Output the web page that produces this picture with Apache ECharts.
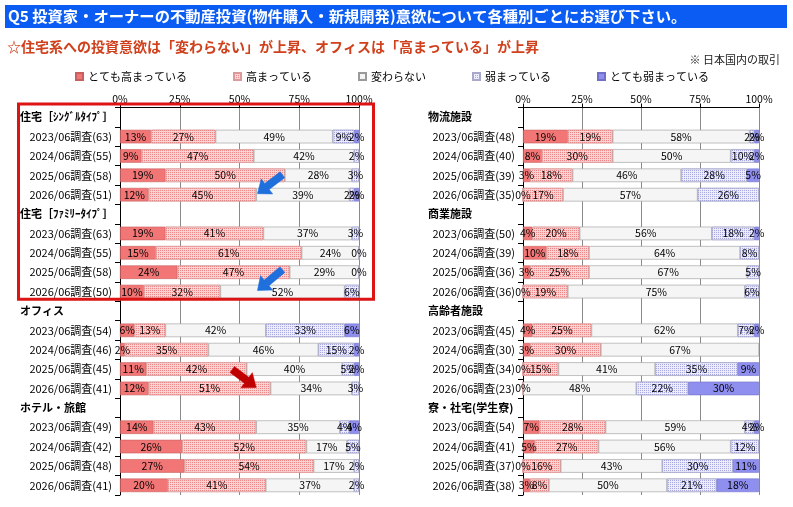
<!DOCTYPE html>
<html><head><meta charset="utf-8">
<script src="https://cdn.jsdelivr.net/npm/echarts@6/dist/echarts.min.js"></script>
<style>html,body{margin:0;padding:0;background:#fff}#c{width:793px;height:507px}</style>
</head><body><div id="c"></div>
<script>
const FONT = '"Noto Sans CJK JP", "Noto Sans", sans-serif';
const seriesNames = ['とても高まっている','高まっている','変わらない','弱まっている','とても弱まっている'];
const tickValues = [0, 25, 50, 75, 100];
const tickLabels = ['0%', '25%', '50%', '75%', '100%'];
const leftHeaders = ['住宅［ｼﾝｸﾞﾙﾀｲﾌﾟ］','住宅［ﾌｧﾐﾘｰﾀｲﾌﾟ］','オフィス','ホテル・旅館'];
const rightHeaders = ['物流施設','商業施設','高齢者施設','寮・社宅(学生寮)'];
const leftCategories = [
  '住宅［ｼﾝｸﾞﾙﾀｲﾌﾟ］','2023/06調査(63)','2024/06調査(55)','2025/06調査(58)','2026/06調査(51)',
  '住宅［ﾌｧﾐﾘｰﾀｲﾌﾟ］','2023/06調査(63)','2024/06調査(55)','2025/06調査(58)','2026/06調査(50)',
  'オフィス','2023/06調査(54)','2024/06調査(46)','2025/06調査(45)','2026/06調査(41)',
  'ホテル・旅館','2023/06調査(49)','2024/06調査(42)','2025/06調査(48)','2026/06調査(41)'
];
const rightCategories = [
  '物流施設','2023/06調査(48)','2024/06調査(40)','2025/06調査(39)','2026/06調査(35)',
  '商業施設','2023/06調査(50)','2024/06調査(39)','2025/06調査(36)','2026/06調査(36)',
  '高齢者施設','2023/06調査(45)','2024/06調査(30)','2025/06調査(34)','2026/06調査(23)',
  '寮・社宅(学生寮)','2023/06調査(54)','2024/06調査(41)','2025/06調査(37)','2026/06調査(38)'
];
// left panel values (null = header row / no label)
const leftVeryHigh = [null,13,9,19,12, null,19,15,24,10, null,6,2,11,12, null,14,26,27,20];
const leftHigh     = [null,27,47,50,45, null,41,61,47,32, null,13,35,42,51, null,43,52,54,41];
const leftSame     = [null,49,42,28,39, null,37,24,29,52, null,42,46,40,34, null,35,17,17,37];
const leftWeak     = [null,9,2,3,2,     null,3,0,0,6,     null,33,15,5,3,  null,4,5,2,2];
const leftVeryWeak = [null,2,null,null,2, null,null,null,null,null, null,6,2,2,null, null,4,null,null,null];
// right panel values
const rightVeryHigh = [null,19,8,3,0,  null,4,10,3,0,  null,4,3,0,0,   null,7,5,0,3];
const rightHigh     = [null,19,30,18,17, null,20,18,25,19, null,25,30,15,null, null,28,27,16,8];
const rightSame     = [null,58,50,46,57, null,56,64,67,75, null,62,67,41,48, null,59,56,43,50];
const rightWeak     = [null,2,10,28,26, null,18,8,5,6,  null,7,null,35,22, null,4,12,30,21];
const rightVeryWeak = [null,2,2,5,null, null,2,null,null,null, null,2,null,9,30, null,2,null,11,18];

const colors = ['#f27676','#fad2d2','#f5f5f5','#ececfa','#8f8ff0'];
const borders = ['#c86060','#d89a9a','#9a9a9a','#a8a8c8','#7070c8'];
const decals = [
  null,
  {symbol:'rect', symbolSize:1, dashArrayX:[1,1], dashArrayY:[1,1], color:'rgba(232,110,110,0.75)'},
  null,
  {symbol:'rect', symbolSize:1, dashArrayX:[1,1], dashArrayY:[1,1], color:'rgba(140,140,215,0.7)'},
  null
];

const chart = echarts.init(document.getElementById('c'));

function yAxisFor(gi, cats, headers, hdrWidth){
  return {
    type:'category', gridIndex: gi, inverse: true, data: cats,
    axisLine:{show:true, lineStyle:{color:'#000', width:1}},
    axisTick:{show:true, length:5, interval:0, lineStyle:{color:'#000'}},
    axisLabel:{
      interval:0, margin:8, fontSize:11, color:'#000', fontFamily: FONT,
      formatter: v => headers.indexOf(v) >= 0 ? '{h|' + v + '}' : v,
      rich:{ h:{ width: hdrWidth, align:'left', fontWeight:'bold', fontSize:11, color:'#000', fontFamily: FONT } }
    }
  };
}
function xAxisFor(gi){
  return {
    type:'value', gridIndex: gi, position:'top', min:0, max:100, interval:25,
    axisLine:{show:true, lineStyle:{color:'#000', width:1}},
    axisTick:{show:true, length:4, lineStyle:{color:'#000'}},
    axisLabel:{margin:3, fontSize:10.5, color:'#000', fontFamily: FONT,
      formatter: v => tickLabels[tickValues.indexOf(v)]},
    splitLine:{show:true, lineStyle:{color:'#8a8a8a', width:1}}
  };
}
function makeSeries(gi, arrays){
  return arrays.map((arr, k) => {
    const st = {color: colors[k], borderColor: borders[k], borderWidth: 0.6};
    if (decals[k]) st.decal = decals[k];
    return {
      name: seriesNames[k], type:'bar', stack:'s'+gi, xAxisIndex: gi, yAxisIndex: gi,
      barWidth:'70%', data: arr,
      itemStyle: st,
      label:{show:true, position:'inside', color:'#000', fontSize:10.5, fontFamily: FONT,
        formatter: p => (p.value === null || p.value === undefined) ? '' : p.value + '%'},
      emphasis:{disabled:true}, animation:false
    };
  });
}

const option = {
  animation:false,
  textStyle:{fontFamily: FONT},
  legend:{
    data: seriesNames, top: 66, left: 70, itemGap: 46, itemWidth: 7, itemHeight: 7,
    icon:'rect', textStyle:{fontSize:11, color:'#000', fontFamily: FONT}, selectedMode:false
  },
  grid:[
    {left:120, top:107.5, width:239, height:387.5, containLabel:false},
    {left:523, top:107.5, width:236, height:387.5, containLabel:false}
  ],
  xAxis:[xAxisFor(0), xAxisFor(1)],
  yAxis:[yAxisFor(0, leftCategories, leftHeaders, 92), yAxisFor(1, rightCategories, rightHeaders, 87)],
  series: makeSeries(0,[leftVeryHigh,leftHigh,leftSame,leftWeak,leftVeryWeak])
    .concat(makeSeries(1,[rightVeryHigh,rightHigh,rightSame,rightWeak,rightVeryWeak])),
  graphic:[
    {type:'rect', id:'titleBg', shape:{x:5, y:5, width:782, height:23}, style:{fill:'#0b5cf2'}, z:10},
    {type:'text', id:'title', x:8, y:16.5, z:11, style:{text:'Q5 投資家・オーナーの不動産投資(物件購入・新規開発)意欲について各種別ごとにお選び下さい。',
      fill:'#fff', font:'bold 15.3px ' + FONT, textVerticalAlign:'middle'}},
    {type:'text', id:'sub', x:7, y:47, z:11, style:{text:'☆住宅系への投資意欲は「変わらない」が上昇、オフィスは「高まっている」が上昇',
      fill:'#d0401c', font:'bold 14px ' + FONT, textVerticalAlign:'middle'}},
    {type:'text', id:'note', x:780, y:60, z:11, style:{text:'※ 日本国内の取引', fill:'#222', font:'11px ' + FONT,
      textAlign:'right', textVerticalAlign:'middle'}}
  ]
};
chart.setOption(option);

function arrowPoints(tail, tip, shaftW, headW, headL){
  const dx = tip[0]-tail[0], dy = tip[1]-tail[1], L = Math.hypot(dx,dy);
  const ux = dx/L, uy = dy/L, nx = -uy, ny = ux;
  const bx = tip[0]-ux*headL, by = tip[1]-uy*headL;
  return [
    [tail[0]+nx*shaftW/2, tail[1]+ny*shaftW/2],
    [bx+nx*shaftW/2, by+ny*shaftW/2],
    [bx+nx*headW/2, by+ny*headW/2],
    tip,
    [bx-nx*headW/2, by-ny*headW/2],
    [bx-nx*shaftW/2, by-ny*shaftW/2],
    [tail[0]-nx*shaftW/2, tail[1]-ny*shaftW/2]
  ];
}
// annotation anchors: [x value, row index, tail dx, tail dy, color]
const arrowAnchors = [
  [57.5, 4, 25, -19, '#1f6fdc'],
  [57.5, 9, 25, -21, '#1f6fdc'],
  [57.0, 14, -24, -18, '#c00000']
];
const g = [];
arrowAnchors.forEach((a, i) => {
  const p = chart.convertToPixel({gridIndex:0}, [a[0], a[1]]);
  const tip = [p[0], p[1] - 1];
  const tail = [tip[0] + a[2], tip[1] + a[3]];
  g.push({type:'polygon', id:'arrow'+i, z:20, shape:{points: arrowPoints(tail, tip, 7.5, 19, 12)},
    style:{fill:a[4], stroke: a[4], lineWidth: 0.5}});
});
// red highlight box around the two housing groups
const rowH = 387.5 / leftCategories.length;
const r0 = chart.convertToPixel({gridIndex:0}, [0, 0]);
const r9 = chart.convertToPixel({gridIndex:0}, [100, 9]);
g.push({type:'rect', id:'box', z:15, shape:{x:18.5, y: r0[1] - rowH/2 - 3.5, width: 355, height: (r9[1] + rowH/2 - 2) - (r0[1] - rowH/2 - 3.5)},
  style:{fill:'none', stroke:'#dc1414', lineWidth:3}});
chart.setOption({graphic: g});
</script>
</body></html>
